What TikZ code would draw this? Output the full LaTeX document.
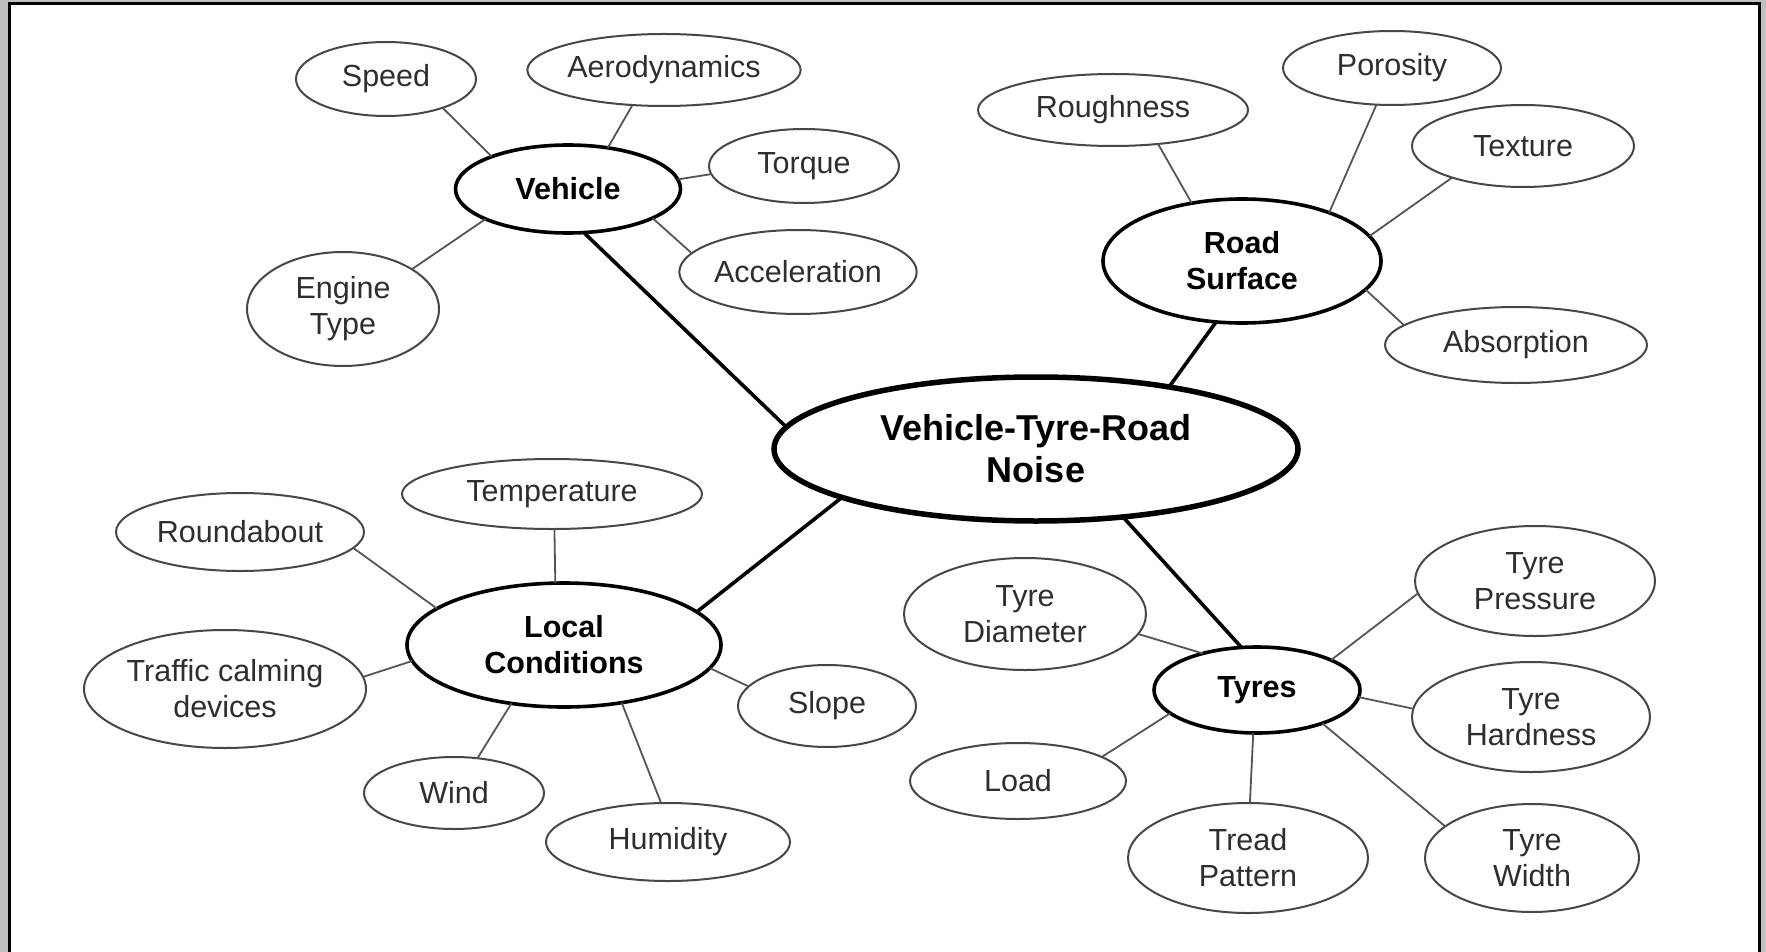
\documentclass[tikz,border=0pt]{standalone}
\usepackage{fontspec}
\setmainfont{Liberation Sans}
\usetikzlibrary{shapes.geometric}
\definecolor{framegray}{HTML}{C0C0C0}
\definecolor{leaftext}{HTML}{2E2E2E}
\definecolor{leafline}{HTML}{474747}
\definecolor{linkgray}{HTML}{555555}
\tikzset{
  es/.style 2 args={minimum width=#1pt, minimum height=#2pt},
  leaf/.style={ellipse, draw=leafline, line width=2pt, fill=white, inner sep=0pt, outer sep=0pt,
    text=leaftext, align=center, font=\fontsize{30.5}{36}\selectfont},
  hub/.style={ellipse, draw=black, line width=3.6pt, fill=white, inner sep=0pt, outer sep=0pt,
    align=center, font=\bfseries\fontsize{30.5}{36}\selectfont},
  core/.style={ellipse, draw=black, line width=5.5pt, fill=white, inner sep=0pt, outer sep=0pt,
    align=center, font=\bfseries\fontsize{36}{42}\selectfont},
  thinlink/.style={draw=linkgray, line width=1.8pt},
  thicklink/.style={draw=black, line width=3.6pt},
}
\begin{document}
\begin{tikzpicture}[x=1pt,y=-1pt]
\useasboundingbox (0,0) rectangle (1766,952);
\fill[framegray] (0,0) rectangle (1766,952);
\fill[white] (10,4) rectangle (1759,952);
\draw[black, line width=2.5pt] (9.5,952) -- (9.5,3.5) -- (1759.5,3.5) -- (1759.5,952);

% core and hubs
\node[core, es={524}{144}] (center) at (1036,449) {Vehicle-Tyre-Road\\Noise};
\node[hub, es={225}{88}] (vehicle) at (568,189) {Vehicle};
\node[hub, es={278}{124}] (road) at (1242,261) {Road\\Surface};
\node[hub, es={314}{124}] (local) at (564,645) {Local\\Conditions};
\node[hub, es={206}{86}] (tyres) at (1257,690) {Tyres};

% vehicle leaves
\node[leaf, es={180}{74}] (speed) at (386,79) {Speed};
\node[leaf, es={256}{72}] (aero) at (664,70) {Aerodynamics};
\node[leaf, es={190}{74}] (torque) at (804,166) {Torque};
\node[leaf, es={232}{84}] (accel) at (798,272) {Acceleration};
\node[leaf, es={192}{114}] (engine) at (343,309) {Engine\\Type};

% road surface leaves
\node[leaf, es={270}{72}] (rough) at (1113,110) {Roughness};
\node[leaf, es={218}{74}] (porosity) at (1392,68) {Porosity};
\node[leaf, es={222}{82}] (texture) at (1523,146) {Texture};
\node[leaf, es={262}{76}] (absorption) at (1516,345) {Absorption};

% local conditions leaves
\node[leaf, es={300}{70}] (temperature) at (552,494) {Temperature};
\node[leaf, es={248}{78}] (roundabout) at (240,532) {Roundabout};
\node[leaf, es={282}{118}] (traffic) at (225,689) {Traffic calming\\devices};
\node[leaf, es={180}{72}] (wind) at (454,793) {Wind};
\node[leaf, es={244}{78}] (humidity) at (668,842) {Humidity};
\node[leaf, es={178}{82}] (slope) at (827,706) {Slope};

% tyres leaves
\node[leaf, es={242}{112}] (diameter) at (1025,614) {Tyre\\Diameter};
\node[leaf, es={216}{76}] (load) at (1018,781) {Load};
\node[leaf, es={240}{110}] (tread) at (1248,858) {Tread\\Pattern};
\node[leaf, es={214}{108}] (width) at (1532,858) {Tyre\\Width};
\node[leaf, es={238}{110}] (hardness) at (1531,717) {Tyre\\Hardness};
\node[leaf, es={240}{110}] (pressure) at (1535,581) {Tyre\\Pressure};

% thick links
\draw[thicklink] (vehicle.-70) -- (center.175);
\draw[thicklink] (road.-113) -- (center.25);
\draw[thicklink] (local.14) -- (center.194);
\draw[thicklink] (tyres.110) -- (center.-38);

% thin links
\draw[thinlink] (speed.-27) -- (vehicle.157);
\draw[thinlink] (aero.-132) -- (vehicle.46);
\draw[thinlink] (torque.185) -- (vehicle.5);
\draw[thinlink] (accel.170) -- (vehicle.-19);
\draw[thinlink] (engine.30) -- (vehicle.-160);

\draw[thinlink] (rough.-37) -- (road.131);
\draw[thinlink] (porosity.-113) -- (road.29);
\draw[thinlink] (texture.-156) -- (road.11);
\draw[thinlink] (absorption.170) -- (road.-13);

\draw[thinlink] (temperature.-86) -- (local.98);
\draw[thinlink] (roundabout.-8) -- (local.164);
\draw[thinlink] (traffic.5) -- (local.186);
\draw[thinlink] (wind.56) -- (local.-132);
\draw[thinlink] (humidity.100) -- (local.-45);
\draw[thinlink] (slope.166) -- (local.-9);

\draw[thinlink] (diameter.-10) -- (tyres.146);
\draw[thinlink] (load.16) -- (tyres.-165);
\draw[thinlink] (tread.88) -- (tyres.-95);
\draw[thinlink] (width.160) -- (tyres.-27);
\draw[thinlink] (hardness.176) -- (tyres.-4);
\draw[thinlink] (pressure.186) -- (tyres.22);
\end{tikzpicture}
\end{document}
